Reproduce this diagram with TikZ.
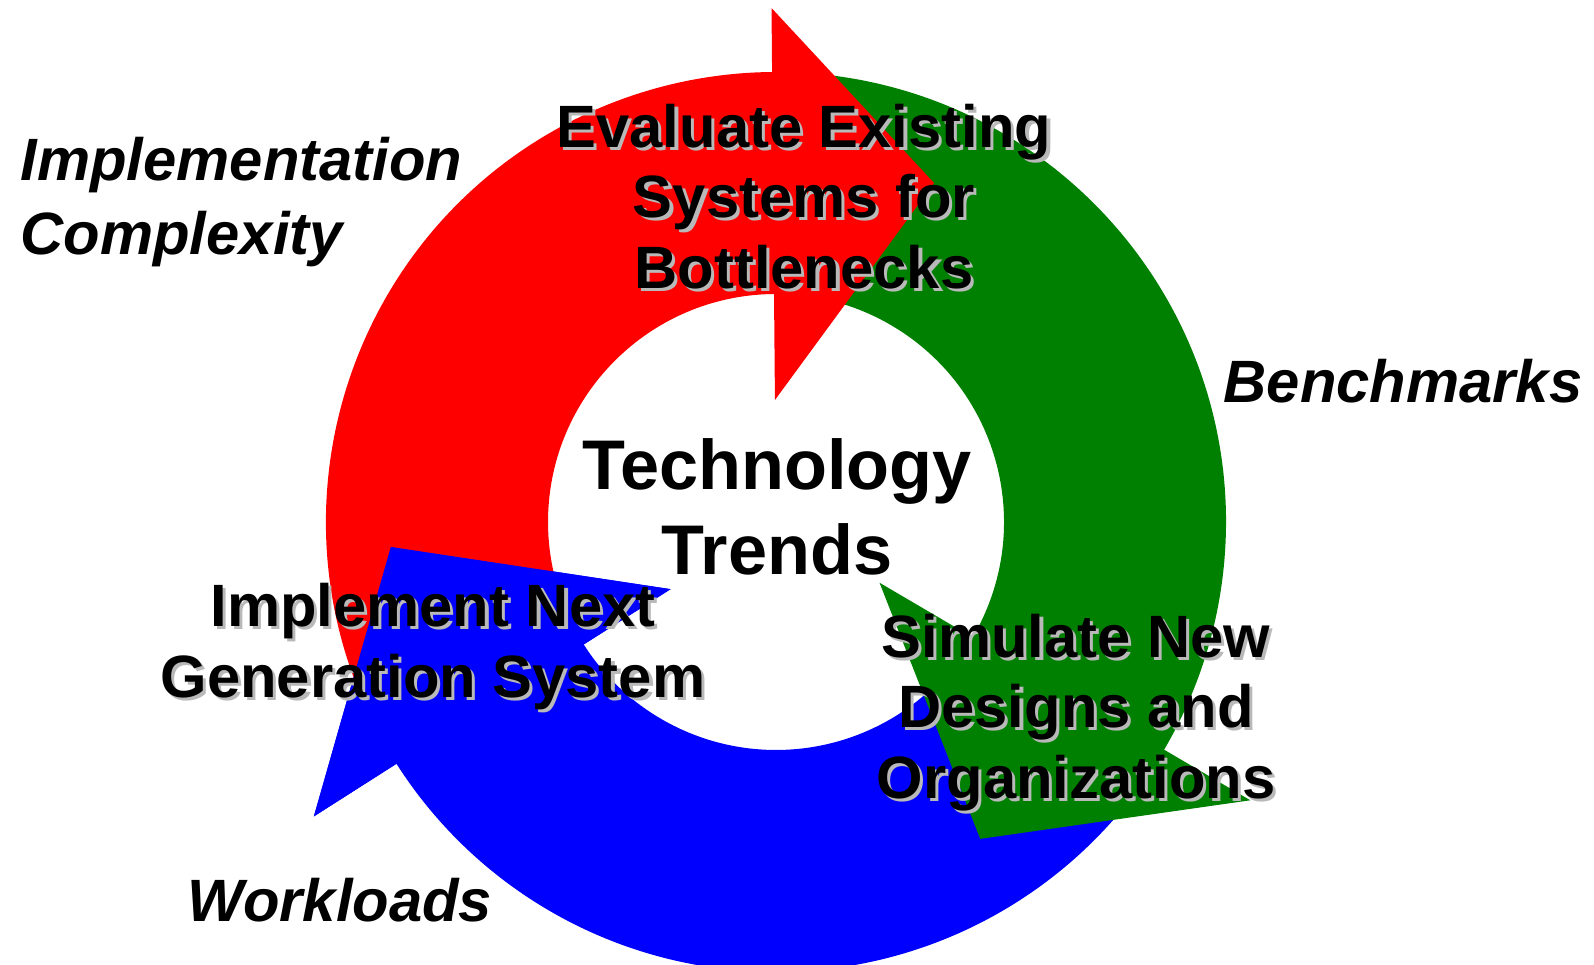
\documentclass[tikz,border=0pt]{standalone}
\usepackage{fontspec}
\setmainfont{Liberation Sans}
\definecolor{ringred}{RGB}{255,0,0}
\definecolor{ringgreen}{RGB}{0,128,0}
\definecolor{ringblue}{RGB}{0,0,255}
\definecolor{shadowgray}{RGB}{185,185,185}
\newcommand{\shad}[1]{\makebox[0pt][l]{\hspace{0.9pt}\raisebox{-0.9pt}{\textcolor{shadowgray}{#1}}}#1}
\tikzstyle{stage} = [align=center, inner sep=0pt, font=\fontsize{17}{20}\selectfont\bfseries]
\tikzstyle{metric} = [align=center, inner sep=0pt, font=\fontsize{17}{21}\selectfont\bfseries\itshape]
\tikzstyle{hub} = [align=center, inner sep=0pt, font=\fontsize{20}{24}\selectfont\bfseries]

\begin{document}
\begin{tikzpicture}
\useasboundingbox (0,0) rectangle (15.94,9.65);

% Cycle arrows
\begin{scope}[shift={(7.76,4.43)}]
\fill[ringblue] (325:4.5) arc[start angle=325, end angle=212.5, radius=4.5] -- (212.5:5.48) -- (183.7:3.86) -- (212.5:1.25) -- (212.5:2.28) arc[start angle=212.5, end angle=325, radius=2.28] -- cycle;
\fill[ringgreen] (85:4.5) arc[start angle=85, end angle=-30.4, radius=4.5] -- (-30.4:5.5) -- (-57.2:3.77) -- (-30.4:1.2) -- (-30.4:2.28) arc[start angle=-30.4, end angle=85, radius=2.28] -- cycle;
\fill[ringred] (207:4.5) arc[start angle=207, end angle=90.5, radius=4.5] -- (90.5:5.14) -- (65:3.74) -- (90.5:1.22) -- (90.5:2.28) arc[start angle=90.5, end angle=207, radius=2.28] -- cycle;
% blue head back on top of the red tail
\fill[ringblue] (212.5:5.48) -- (183.7:3.86) -- (212.5:1.25) -- cycle;
\end{scope}

% Stage labels
\node[stage] (evaluate) at (8.04,7.67) {\shad{Evaluate Existing}\\\shad{Systems for}\\\shad{Bottlenecks}};
\node[stage] (simulate) at (10.76,2.51) {\shad{Simulate New}\\\shad{Designs and}\\\shad{Organizations}};
\node[stage] (implement) at (4.33,3.17) {\shad{Implement Next}\\\shad{Generation System}};
\node[hub] (trends) at (7.77,4.58) {Technology\\Trends};

% Outside labels
\node[metric, align=left, anchor=west] (complexity) at (0.2,7.63) {Implementation\\Complexity};
\node[metric] (benchmarks) at (14.03,5.84) {Benchmarks};
\node[metric] (workloads) at (3.40,0.65) {Workloads};

\end{tikzpicture}
\end{document}
